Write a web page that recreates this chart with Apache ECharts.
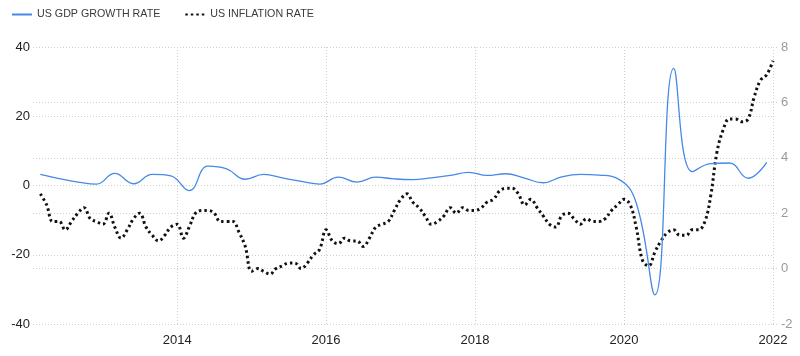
<!DOCTYPE html>
<html><head><meta charset="utf-8">
<script src="https://cdn.jsdelivr.net/npm/echarts@6/dist/echarts.min.js"></script>
<style>html,body{margin:0;padding:0;background:#fff}#c{width:800px;height:356px}</style>
</head><body><div id="c"></div>
<script>
const seriesNames = ['US GDP GROWTH RATE', 'US INFLATION RATE'];
const xTickLabels = ['2014-01-01', '2016-01-01', '2018-01-01', '2020-01-01', '2022-01-01'];
const xRange = ['2012-01-25', '2022-01-01'];
const gdpDates = [
  '2012-03-01','2012-06-01','2012-09-01','2012-12-01',
  '2013-03-01','2013-06-01','2013-09-01','2013-12-01',
  '2014-03-01','2014-06-01','2014-09-01','2014-12-01',
  '2015-03-01','2015-06-01','2015-09-01','2015-12-01',
  '2016-03-01','2016-06-01','2016-09-01','2016-12-01',
  '2017-03-01','2017-06-01','2017-09-01','2017-12-01',
  '2018-03-01','2018-06-01','2018-09-01','2018-12-01',
  '2019-03-01','2019-06-01','2019-09-01','2019-12-01',
  '2020-03-01','2020-06-01','2020-09-01','2020-12-01',
  '2021-03-01','2021-06-01','2021-09-01','2021-12-01'
];
const gdpValues = [
  3.2, 2.0, 1.0, 0.4,
  3.5, 0.5, 3.2, 2.8,
  -1.5, 5.6, 4.8, 1.8,
  3.2, 2.2, 1.2, 0.4,
  2.4, 1.0, 2.4, 1.9,
  1.7, 2.2, 2.9, 3.8,
  2.9, 3.4, 2.1, 0.8,
  2.5, 3.2, 3.0, 2.0,
  -5.0, -31.6, 33.8, 4.0,
  6.3, 6.5, 2.1, 6.7
];
const inflationDates = [
  '2012-03-01','2012-04-01','2012-05-01','2012-06-01','2012-07-01','2012-08-01','2012-09-01','2012-10-01','2012-11-01','2012-12-01',
  '2013-01-01','2013-02-01','2013-03-01','2013-04-01','2013-05-01','2013-06-01','2013-07-01','2013-08-01','2013-09-01','2013-10-01','2013-11-01','2013-12-01',
  '2014-01-01','2014-02-01','2014-03-01','2014-04-01','2014-05-01','2014-06-01','2014-07-01','2014-08-01','2014-09-01','2014-10-01','2014-11-01','2014-12-01',
  '2015-01-01','2015-02-01','2015-03-01','2015-04-01','2015-05-01','2015-06-01','2015-07-01','2015-08-01','2015-09-01','2015-10-01','2015-11-01','2015-12-01',
  '2016-01-01','2016-02-01','2016-03-01','2016-04-01','2016-05-01','2016-06-01','2016-07-01','2016-08-01','2016-09-01','2016-10-01','2016-11-01','2016-12-01',
  '2017-01-01','2017-02-01','2017-03-01','2017-04-01','2017-05-01','2017-06-01','2017-07-01','2017-08-01','2017-09-01','2017-10-01','2017-11-01','2017-12-01',
  '2018-01-01','2018-02-01','2018-03-01','2018-04-01','2018-05-01','2018-06-01','2018-07-01','2018-08-01','2018-09-01','2018-10-01','2018-11-01','2018-12-01',
  '2019-01-01','2019-02-01','2019-03-01','2019-04-01','2019-05-01','2019-06-01','2019-07-01','2019-08-01','2019-09-01','2019-10-01','2019-11-01','2019-12-01',
  '2020-01-01','2020-02-01','2020-03-01','2020-04-01','2020-05-01','2020-06-01','2020-07-01','2020-08-01','2020-09-01','2020-10-01','2020-11-01','2020-12-01',
  '2021-01-01','2021-02-01','2021-03-01','2021-04-01','2021-05-01','2021-06-01','2021-07-01','2021-08-01','2021-09-01','2021-10-01','2021-11-01','2021-12-01',
  '2022-01-01'
];
const inflationValues = [
  2.7, 2.3, 1.7, 1.7, 1.4, 1.7, 2.0, 2.2, 1.8, 1.7,
  1.6, 2.0, 1.5, 1.1, 1.4, 1.8, 2.0, 1.5, 1.2, 1.0, 1.2, 1.5,
  1.6, 1.1, 1.5, 2.0, 2.1, 2.1, 2.0, 1.7, 1.7, 1.7, 1.3, 0.8,
  -0.1, 0.0, -0.1, -0.2, 0.0, 0.1, 0.2, 0.2, 0.0, 0.2, 0.5, 0.7,
  1.4, 1.0, 0.9, 1.1, 1.0, 1.0, 0.8, 1.1, 1.5, 1.6, 1.7, 2.1,
  2.5, 2.7, 2.4, 2.2, 1.9, 1.6, 1.7, 1.9, 2.2, 2.0, 2.2, 2.1,
  2.1, 2.2, 2.4, 2.5, 2.8, 2.9, 2.9, 2.7, 2.3, 2.5, 2.2, 1.9,
  1.6, 1.5, 1.9, 2.0, 1.8, 1.6, 1.8, 1.7, 1.7, 1.8, 2.1, 2.3,
  2.5, 2.3, 1.5, 0.3, 0.1, 0.6, 1.0, 1.3, 1.4, 1.2, 1.2, 1.4,
  1.4, 1.7, 2.6, 4.2, 5.0, 5.4, 5.4, 5.3, 5.4, 6.2, 6.8, 7.0,
  7.5
];

const FONT = '"Liberation Sans", Arial, sans-serif';
const ts = d => echarts.number.parseDate(d).getTime();
const gridLine = { show: true, lineStyle: { color: '#cfcfcf', width: 1, type: [1, 2] } };
const xTickValues = xTickLabels.map(ts);

const chart = echarts.init(document.getElementById('c'), null, { renderer: 'canvas' });
chart.setOption({
  animation: false,
  backgroundColor: '#ffffff',
  textStyle: { fontFamily: FONT },
  legend: {
    left: 6, top: 4, itemWidth: 20, itemHeight: 10, itemGap: 24,
    itemStyle: { opacity: 0 },
    textStyle: { fontSize: 10.7, color: '#3a3a3a', fontFamily: FONT },
    data: seriesNames
  },
  grid: { left: 33, right: 27, top: 47, bottom: 32, containLabel: false },
  xAxis: {
    type: 'value',
    min: ts(xRange[0]),
    max: ts(xRange[1]),
    axisLine: { show: false },
    axisTick: { show: true, length: 5, customValues: xTickValues, lineStyle: { color: '#cfcfcf', type: [1, 2] } },
    axisLabel: {
      customValues: xTickValues, color: '#222', fontSize: 13, margin: 10, fontFamily: FONT,
      formatter: v => String(new Date(v).getFullYear())
    },
    splitLine: gridLine
  },
  yAxis: [
    {
      type: 'value', position: 'left', min: -40, max: 40, interval: 20,
      axisLine: { show: false }, axisTick: { show: false },
      axisLabel: { color: '#222', fontSize: 13, margin: 3, fontFamily: FONT },
      splitLine: gridLine
    },
    {
      type: 'value', position: 'right', min: -2, max: 8, interval: 2,
      axisLine: { show: false },
      axisTick: { show: true, length: 5, lineStyle: { color: '#cfcfcf', type: [1, 2] } },
      axisLabel: { color: '#9a9a9a', fontSize: 13, margin: 8, fontFamily: FONT },
      splitLine: gridLine
    }
  ],
  series: [
    {
      name: seriesNames[0], type: 'line', yAxisIndex: 0, smooth: 0.45, symbol: 'none',
      lineStyle: { color: '#4689e6', width: 1.3 },
      itemStyle: { color: '#4689e6' },
      data: gdpDates.map((d, i) => [ts(d), gdpValues[i]]),
      z: 3
    },
    {
      name: seriesNames[1], type: 'line', yAxisIndex: 1, smooth: 0.4, symbol: 'none',
      lineStyle: { color: '#111', width: 3, type: [2.5, 3] },
      itemStyle: { color: '#111' },
      data: inflationDates.map((d, i) => [ts(d), inflationValues[i]]),
      z: 2
    }
  ]
});
</script></body></html>
